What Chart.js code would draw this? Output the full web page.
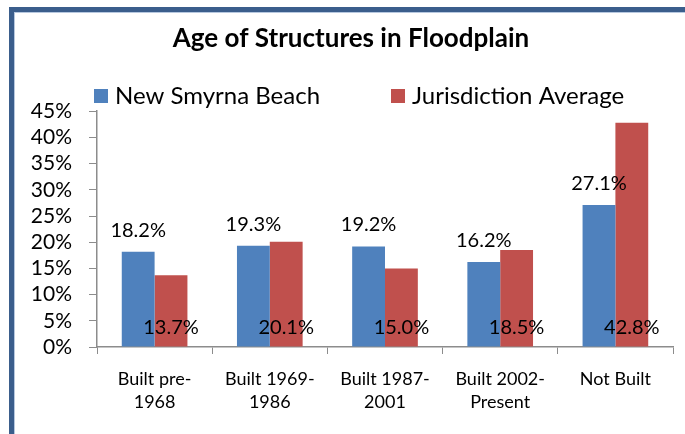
<!DOCTYPE html>
<html>
<head>
<meta charset="utf-8">
<script src="https://cdn.jsdelivr.net/npm/chart.js@4.4.1/dist/chart.umd.min.js"></script>
<style>
  html, body { margin: 0; padding: 0; background: #fff; }
  #wrap { position: relative; width: 685px; height: 434px; overflow: hidden; }
  #frame {
    position: absolute; left: 9px; top: 7px; width: 720px; height: 460px;
    border-left: 5px solid #3b5e8c; border-top: 5px solid #3b5e8c;
    box-shadow: inset 1px 1px 0 #b7c8df;
  }
  #chart { position: absolute; left: 0; top: 0; }
</style>
</head>
<body>
<div id="wrap">
  <div id="frame"></div>
  <canvas id="chart" width="685" height="434"></canvas>
</div>
<script>
    // 범주 / 시리즈 값 (%)
    const categories = [['Built pre-', '1968'], ['Built 1969-', '1986'], ['Built 1987-', '2001'], ['Built 2002-', 'Present'], 'Not Built'];
    const nsbValues = [18.2, 19.3, 19.2, 16.2, 27.1];
    const jurisValues = [13.7, 20.1, 15.0, 18.5, 42.8];
    const yTicks = [0, 5, 10, 15, 20, 25, 30, 35, 40, 45];

    const FONT = 'Lato, Calibri, "Open Sans", sans-serif';

    // 막대 값 라벨: 파란 막대는 위쪽, 빨간 막대는 축 바로 위
    const valueLabels = {
        id: 'valueLabels',
        afterDatasetsDraw(chart) {
            const ctx = chart.ctx;
            const zeroY = chart.scales.y.getPixelForValue(0);
            ctx.save();
            ctx.font = '20px ' + FONT;
            ctx.fillStyle = '#000';
            ctx.textAlign = 'center';
            ctx.textBaseline = 'alphabetic';
            chart.data.datasets.forEach((ds, i) => {
                chart.getDatasetMeta(i).data.forEach((bar, j) => {
                    const txt = ds.data[j].toFixed(1) + '%';
                    const y = i === 0 ? bar.y - 15 : zeroY - 13;
                    ctx.fillText(txt, bar.x, y);
                });
            });
            ctx.restore();
        }
    };

    // 범례 직접 그리기
    const simpleLegend = {
        id: 'simpleLegend',
        afterDraw(chart) {
            const ctx = chart.ctx;
            const xs = [94, 391];
            ctx.save();
            ctx.font = '24px ' + FONT;
            ctx.textBaseline = 'alphabetic';
            chart.data.datasets.forEach((ds, i) => {
                ctx.fillStyle = ds.backgroundColor;
                ctx.fillRect(xs[i], 89, 14, 14);
                ctx.fillStyle = '#000';
                ctx.fillText(ds.label, xs[i] + 21, 104);
            });
            ctx.restore();
        }
    };

    const ctx = document.getElementById('chart').getContext('2d');
    const ageChart = new Chart(ctx, {
        type: 'bar',
        data: {
            labels: categories,
            datasets: [{
                label: 'New Smyrna Beach',
                data: nsbValues,
                backgroundColor: '#4f81bd',
                categoryPercentage: 0.57,
                barPercentage: 1
            }, {
                label: 'Jurisdiction Average',
                data: jurisValues,
                backgroundColor: '#c0504d',
                categoryPercentage: 0.57,
                barPercentage: 1
            }]
        },
        options: {
            responsive: false,
            animation: false,
            layout: { padding: { left: 29, right: 12, top: 0, bottom: 0 } },
            plugins: {
                legend: { display: false },
                tooltip: { enabled: false },
                title: {
                    display: true,
                    text: 'Age of Structures in Floodplain',
                    color: '#000',
                    font: { family: FONT, size: 26, weight: 'bold', lineHeight: 1.2 },
                    padding: { top: 23, bottom: 57 }
                }
            },
            scales: {
                x: {
                    grid: { drawOnChartArea: false, color: '#8c8c8c', tickLength: 7, lineWidth: 1 },
                    border: { color: '#8c8c8c', width: 1.5 },
                    ticks: {
                        color: '#000',
                        padding: 13,
                        maxRotation: 0,
                        minRotation: 0,
                        font: { family: FONT, size: 18, lineHeight: 1.3 }
                    },
                    afterFit(scale) { scale.height = 87; }
                },
                y: {
                    min: 0,
                    max: 45,
                    afterBuildTicks(scale) { scale.ticks = yTicks.map(v => ({ value: v })); },
                    grid: { drawOnChartArea: false, color: '#8c8c8c', tickLength: 8, lineWidth: 1 },
                    border: { color: '#8c8c8c', width: 1.5 },
                    ticks: {
                        color: '#000',
                        padding: 17,
                        autoSkip: false,
                        font: { family: FONT, size: 21 },
                        callback: v => v + '%'
                    },
                    afterFit(scale) { scale.width = 68; }
                }
            }
        },
        plugins: [valueLabels, simpleLegend]
    });
</script>
</body>
</html>
